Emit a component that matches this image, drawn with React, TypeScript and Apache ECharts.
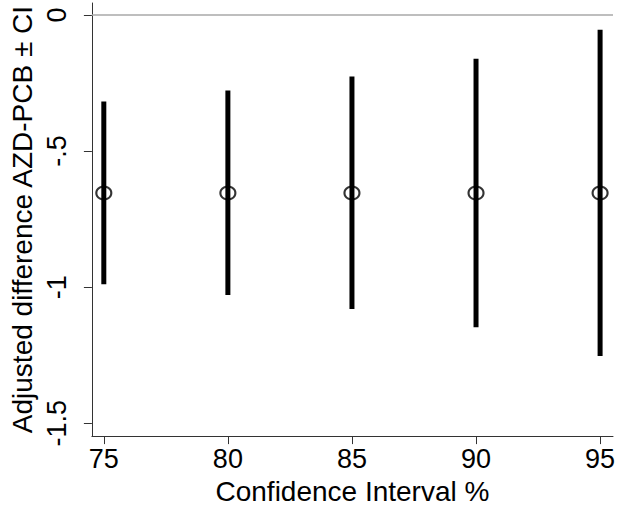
import React, { useEffect, useRef } from "react";
import * as echarts from "echarts";

// Confidence level (%) for each interval
const levels: number[] = [75, 80, 85, 90, 95];
// Adjusted difference AZD-PCB (point estimate)
const estimates: number[] = [-0.654, -0.654, -0.654, -0.654, -0.654];
// Interval bounds
const lower: number[] = [-0.989, -1.029, -1.08, -1.147, -1.253];
const upper: number[] = [-0.318, -0.277, -0.226, -0.161, -0.054];

const xTicks: number[] = [75, 80, 85, 90, 95];
const yTicks: number[] = [-1.5, -1, -0.5, 0];
const yTickLabels: string[] = ["-1.5", "-1", "-.5", "0"];

const FONT = "'Liberation Sans', Arial, Helvetica, sans-serif";
const AXIS_COLOR = "#333333";

export default function App() {
  const ref = useRef<HTMLDivElement>(null);

  useEffect(() => {
    if (!ref.current) return;
    const chart = echarts.init(ref.current, undefined, { renderer: "svg" });

    const intervals = levels.map((lv, i) => [lv, lower[i], upper[i]]);
    const points = levels.map((lv, i) => [lv, estimates[i]]);

    chart.setOption({
      animation: false,
      backgroundColor: "#ffffff",
      textStyle: { fontFamily: FONT },
      grid: { left: 88, right: 16, top: 3, bottom: 71, containLabel: false },
      xAxis: {
        type: "value",
        min: 74.52,
        max: 95.52,
        name: "Confidence Interval %",
        nameLocation: "middle",
        nameGap: 38,
        nameTextStyle: { fontFamily: FONT, fontSize: 28, color: "#000" },
        axisLine: { show: true, onZero: false, lineStyle: { color: AXIS_COLOR, width: 1 } },
        axisTick: {
          show: true,
          length: 8,
          customValues: xTicks,
          lineStyle: { color: AXIS_COLOR, width: 1 },
        },
        axisLabel: {
          customValues: xTicks,
          margin: 9,
          fontFamily: FONT,
          fontSize: 27,
          color: "#000",
          formatter: (v: number) => String(v),
        },
        splitLine: { show: false },
      },
      yAxis: {
        type: "value",
        min: -1.547,
        max: 0.044,
        name: "Adjusted difference AZD-PCB \u00b1 CI",
        nameLocation: "middle",
        nameGap: 41,
        nameRotate: 90,
        nameTextStyle: { fontFamily: FONT, fontSize: 28, color: "#000" },
        axisLine: { show: true, onZero: false, lineStyle: { color: AXIS_COLOR, width: 1 } },
        axisTick: {
          show: true,
          length: 8,
          customValues: yTicks,
          lineStyle: { color: AXIS_COLOR, width: 1 },
        },
        axisLabel: {
          customValues: yTicks,
          rotate: 90,
          margin: 21,
          fontFamily: FONT,
          fontSize: 27,
          color: "#000",
          formatter: (v: number) => {
            const idx = yTicks.findIndex((t) => Math.abs(t - v) < 1e-9);
            return idx >= 0 ? yTickLabels[idx] : "";
          },
        },
        splitLine: { show: false },
      },
      series: [
        {
          type: "custom",
          name: "CI",
          data: intervals,
          encode: { x: 0, y: [1, 2] },
          renderItem: (params: any, api: any) => {
            const x = api.value(0);
            const lo = api.coord([x, api.value(1)]);
            const hi = api.coord([x, api.value(2)]);
            return {
              type: "line",
              shape: { x1: lo[0], y1: lo[1], x2: hi[0], y2: hi[1] },
              style: { stroke: "#000", lineWidth: 5, lineCap: "butt" },
            };
          },
          z: 2,
          markLine: {
            silent: true,
            symbol: ["none", "none"],
            label: { show: false },
            lineStyle: { color: "#a8a8a8", width: 1.5, type: "solid" },
            data: [{ yAxis: 0 }],
          },
        },
        {
          type: "scatter",
          name: "Estimate",
          data: points,
          symbol: "circle",
          symbolSize: [15, 13],
          itemStyle: { color: "rgba(0,0,0,0)", borderColor: "#000", borderWidth: 2 },
          z: 3,
        },
      ],
    });

    return () => chart.dispose();
  }, []);

  return <div ref={ref} style={{ width: 629, height: 510, position: "absolute", left: 0, top: 0 }} />;
}
